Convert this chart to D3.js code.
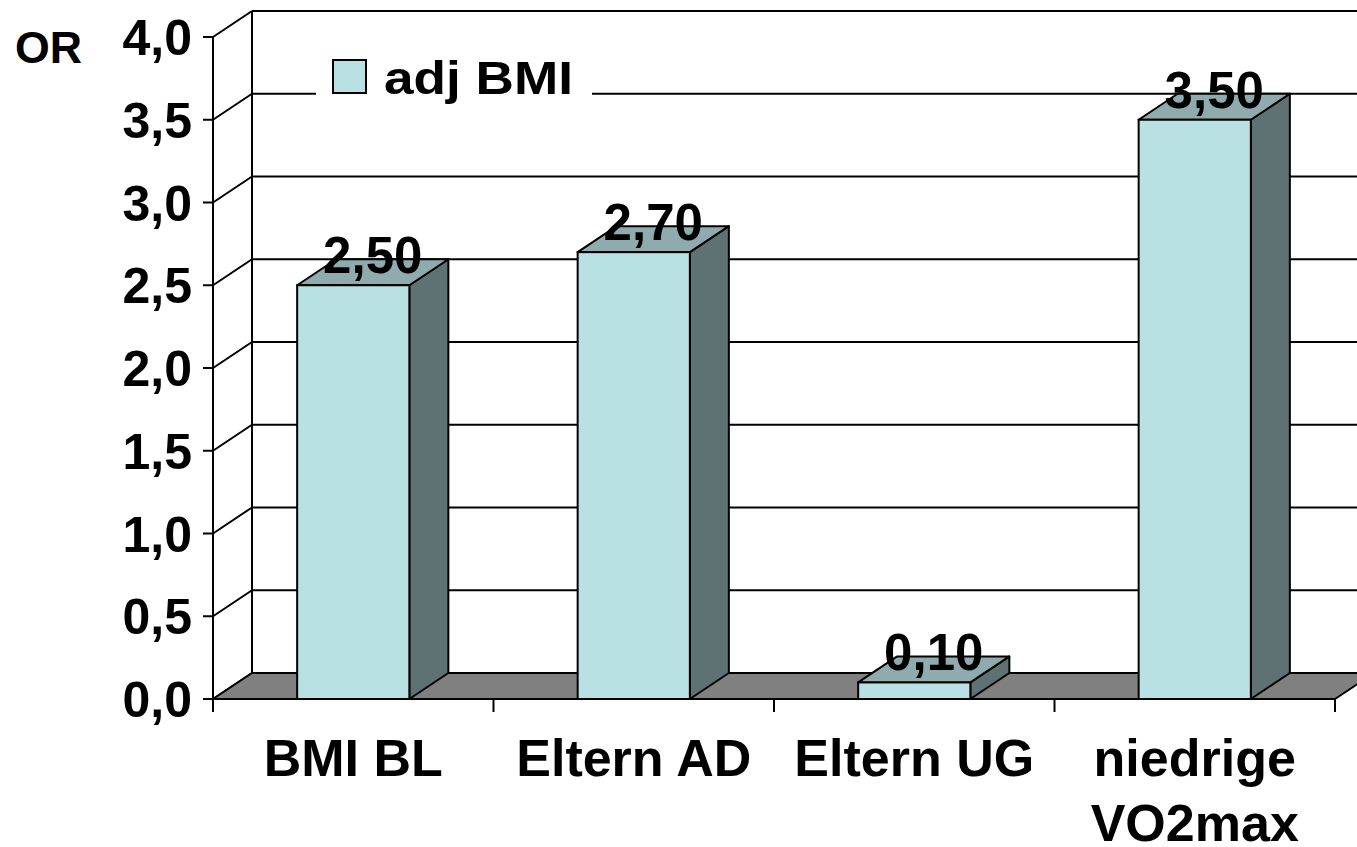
<!DOCTYPE html>
<html>
<head>
<meta charset="utf-8">
<script src="https://cdn.jsdelivr.net/npm/d3@7"></script>
<style>
  html, body { margin: 0; padding: 0; background: #fff; }
  svg { display: block; font-family: "Liberation Sans", Arial, sans-serif; font-weight: bold; }
</style>
</head>
<body>
<svg id="chart" width="1357" height="847"></svg>
<script>
// ---- data ----
const categories = ["BMI BL", "Eltern AD", "Eltern UG", "niedrige\nVO2max"];
const values = [2.50, 2.70, 0.10, 3.50];
const valueLabels = ["2,50", "2,70", "0,10", "3,50"];
const yTicks = [0, 0.5, 1, 1.5, 2, 2.5, 3, 3.5, 4];
const yTickLabels = ["0,0", "0,5", "1,0", "1,5", "2,0", "2,5", "3,0", "3,5", "4,0"];
const seriesName = "adj BMI";
const yAxisTitle = "OR";

// ---- layout ----
const svg = d3.select("#chart");
const x0 = 213, x1 = 1335, yBottom = 699, yTop = 37;
const DX = 39, DY = -26;
const colFront = "rgb(185,224,227)", colTop = "rgb(143,171,173)", colSide = "rgb(94,113,115)";

const y = d3.scaleLinear().domain([0, 4]).range([yBottom, yTop]);
const x = d3.scaleBand().domain(categories).range([x0, x1]).paddingInner(0.6).paddingOuter(0.3);

const g = svg.append("g");

// back wall gridlines
g.selectAll("line.grid").data(yTicks).join("line")
  .attr("x1", x0 + DX).attr("x2", x1 + DX)
  .attr("y1", d => y(d) + DY).attr("y2", d => y(d) + DY)
  .attr("stroke", "#000").attr("stroke-width", 2);

// side wall diagonals
g.selectAll("line.side").data(yTicks).join("line")
  .attr("x1", x0).attr("x2", x0 + DX)
  .attr("y1", d => y(d)).attr("y2", d => y(d) + DY)
  .attr("stroke", "#000").attr("stroke-width", 2);

// back wall vertical edge
g.append("line").attr("x1", x0 + DX).attr("x2", x0 + DX)
  .attr("y1", y(4) + DY).attr("y2", y(0) + DY)
  .attr("stroke", "#000").attr("stroke-width", 2);

// floor
g.append("path")
  .attr("d", `M${x0},${y(0)} L${x0 + DX},${y(0) + DY} L${x1 + DX},${y(0) + DY} L${x1},${y(0)} Z`)
  .attr("fill", "#808080").attr("stroke", "#000").attr("stroke-width", 2).attr("stroke-linejoin", "round");

// bars
const barData = categories.map((c, i) => ({ c, v: values[i], lab: valueLabels[i] }));
const bars = g.selectAll("g.bar").data(barData).join("g");
bars.append("path") // side
  .attr("d", d => {
    const xr = x(d.c) + x.bandwidth(), yt = y(d.v), yb = y(0);
    return `M${xr},${yb} L${xr + DX},${yb + DY} L${xr + DX},${yt + DY} L${xr},${yt} Z`;
  })
  .attr("fill", colSide).attr("stroke", "#000").attr("stroke-width", 2).attr("stroke-linejoin", "round");
bars.append("path") // top
  .attr("d", d => {
    const xl = x(d.c), xr = xl + x.bandwidth(), yt = y(d.v);
    return `M${xl},${yt} L${xl + DX},${yt + DY} L${xr + DX},${yt + DY} L${xr},${yt} Z`;
  })
  .attr("fill", colTop).attr("stroke", "#000").attr("stroke-width", 2).attr("stroke-linejoin", "round");
bars.append("rect") // front
  .attr("x", d => x(d.c)).attr("y", d => y(d.v))
  .attr("width", x.bandwidth()).attr("height", d => y(0) - y(d.v))
  .attr("fill", colFront).attr("stroke", "#000").attr("stroke-width", 2);

// legend
const leg = svg.append("g");
leg.append("rect").attr("x", 316).attr("y", 52).attr("width", 276).attr("height", 52).attr("fill", "#fff");
leg.append("rect").attr("x", 333).attr("y", 60).attr("width", 33).attr("height", 33)
  .attr("fill", colFront).attr("stroke", "#000").attr("stroke-width", 2);
leg.append("text").attr("x", 384).attr("y", 94).attr("font-size", 46)
  .attr("textLength", 189).attr("lengthAdjust", "spacingAndGlyphs")
  .text(seriesName);

// value labels
svg.selectAll("text.val").data(barData).join("text")
  .attr("x", d => x(d.c) + x.bandwidth() / 2 + DX / 2)
  .attr("y", d => y(d.v) - 12)
  .attr("text-anchor", "middle").attr("font-size", 51)
  .text(d => d.lab);

// y axis
const ax = svg.append("g");
ax.append("line").attr("x1", x0).attr("x2", x0).attr("y1", y(4)).attr("y2", y(0) + 13)
  .attr("stroke", "#000").attr("stroke-width", 2);
ax.selectAll("line.yt").data(yTicks).join("line")
  .attr("x1", x0 - 10).attr("x2", x0).attr("y1", d => y(d)).attr("y2", d => y(d))
  .attr("stroke", "#000").attr("stroke-width", 2);
ax.selectAll("text.yl").data(yTicks).join("text")
  .attr("x", 192).attr("y", d => y(d) + 18)
  .attr("text-anchor", "end").attr("font-size", 50)
  .text((d, i) => yTickLabels[i]);

// x axis ticks
const xTickPos = d3.range(categories.length + 1).map(i => x0 + i * (x1 - x0) / categories.length);
ax.selectAll("line.xt").data(xTickPos).join("line")
  .attr("x1", d => d).attr("x2", d => d).attr("y1", y(0)).attr("y2", y(0) + 13)
  .attr("stroke", "#000").attr("stroke-width", 2);

// category labels
svg.selectAll("text.cat").data(categories).join("text")
  .attr("text-anchor", "middle").attr("font-size", 52)
  .each(function (d) {
    const cx = x(d) + x.bandwidth() / 2;
    d3.select(this).selectAll("tspan").data(d.split("\n")).join("tspan")
      .attr("x", cx).attr("y", (t, j) => 776 + j * 65).text(t => t);
  });

// y axis title
svg.append("text").attr("x", 15).attr("y", 63).attr("font-size", 44)
  .attr("textLength", 67).attr("lengthAdjust", "spacingAndGlyphs").text(yAxisTitle);
</script>
</body>
</html>
